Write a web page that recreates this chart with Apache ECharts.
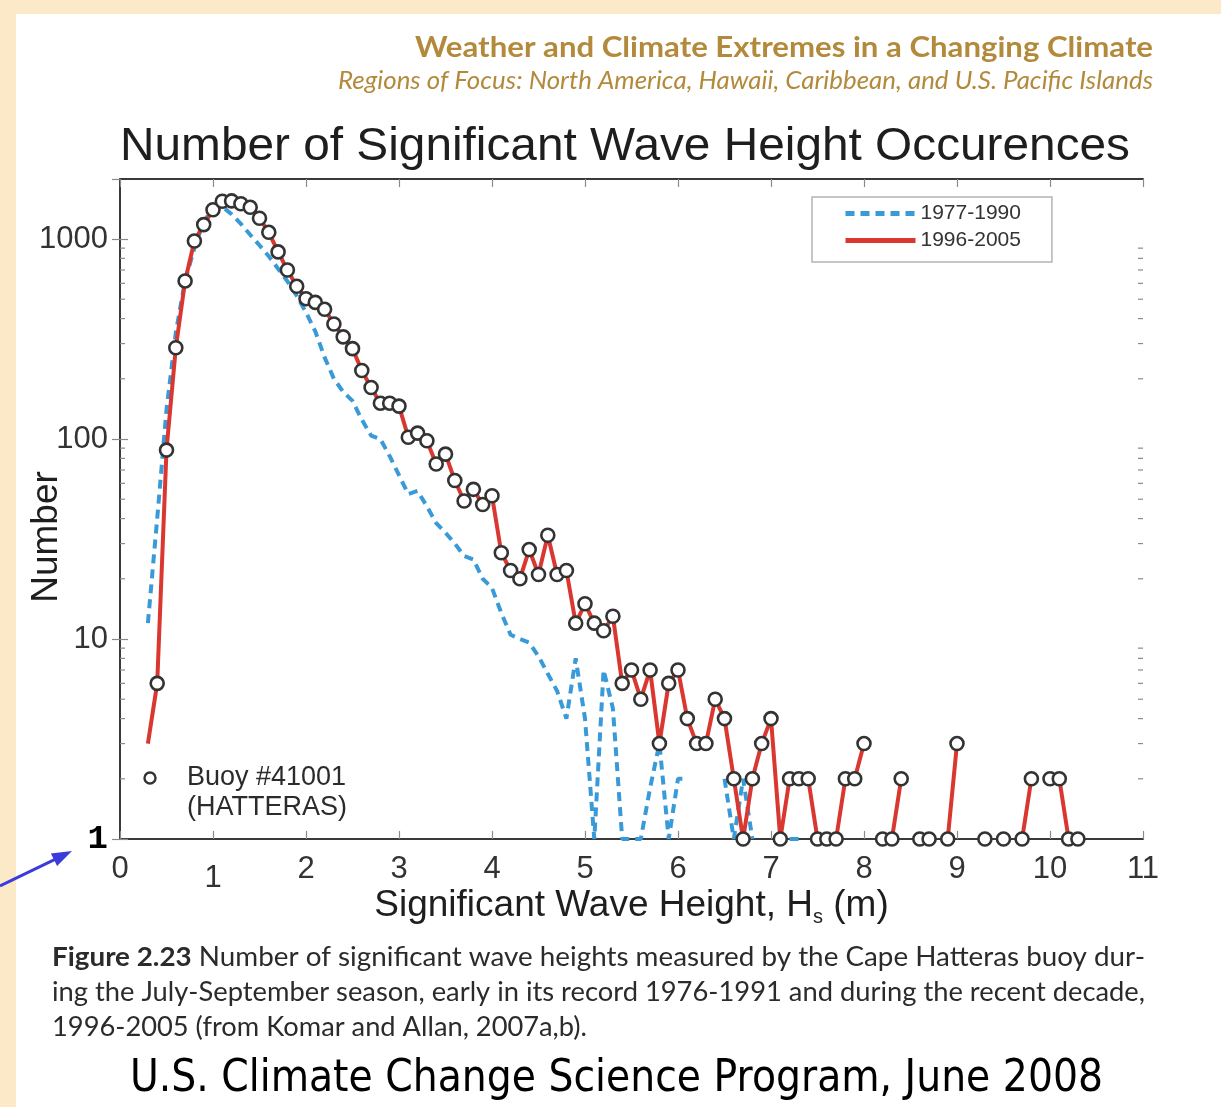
<!DOCTYPE html>
<html>
<head>
<meta charset="utf-8">
<title>Number of Significant Wave Height Occurences</title>
<script src="https://cdn.jsdelivr.net/npm/echarts@6/dist/echarts.min.js"></script>
<style>
  html, body { margin: 0; padding: 0; background: #fbe9c7; }
  #chart { width: 1221px; height: 1107px; }
</style>
</head>
<body>
<div id="chart"></div>
<script>
// Significant wave height bins (m)
const waveHeights = [
  0.3, 0.4, 0.5, 0.6, 0.7, 0.8, 0.9, 1.0, 1.1, 1.2,
  1.3, 1.4, 1.5, 1.6, 1.7, 1.8, 1.9, 2.0, 2.1, 2.2,
  2.3, 2.4, 2.5, 2.6, 2.7, 2.8, 2.9, 3.0, 3.1, 3.2,
  3.3, 3.4, 3.5, 3.6, 3.7, 3.8, 3.9, 4.0, 4.1, 4.2,
  4.3, 4.4, 4.5, 4.6, 4.7, 4.8, 4.9, 5.0, 5.1, 5.2,
  5.3, 5.4, 5.5, 5.6, 5.7, 5.8, 5.9, 6.0, 6.1, 6.2,
  6.3, 6.4, 6.5, 6.6, 6.7, 6.8, 6.9, 7.0, 7.1, 7.2,
  7.3, 7.4, 7.5, 7.6, 7.7, 7.8, 7.9, 8.0, 8.1, 8.2,
  8.3, 8.4, 8.5, 8.6, 8.7, 8.8, 8.9, 9.0, 9.1, 9.2,
  9.3, 9.4, 9.5, 9.6, 9.7, 9.8, 9.9, 10.0, 10.1, 10.2,
  10.3
];

// Occurrences, early record (null = no occurrence, not drawn on the log scale)
const counts1977to1990 = [
  12, 40, 140, 340, 620, 900, 1230, 1400, 1450, 1330,
  1190, 1050, 930, 820, 710, 615, 520, 430, 345, 256,
  200, 172, 155, 125, 104, 100, 82, 66, 53, 55,
  46, 38, 34, 30, 26, 25, 20, 18, 13.5, 10.5,
  10, 9.6, 8.2, 6.7, 5.5, 4, 8, 4, 1, 7,
  4.5, 1, 1, 1, 1.8, 3, 1, 2, 2, null,
  null, null, 2, 1, 2, 1, null, null, null, 1,
  1, null, null, null, null, null, null, null, null, null,
  null, null, null, null, null, null, null, null, null, null,
  null, null, null, null, null, null, null, null, null, null,
  null
];

// Occurrences, recent decade
const counts1996to2005 = [
  3, 6, 88, 286, 617, 977, 1180, 1400, 1545, 1550,
  1500, 1440, 1270, 1080, 862, 700, 580, 503, 482, 445,
  376, 324, 283, 220, 181, 151, 151, 146, 102, 107,
  98, 75, 84, 62, 49, 56, 47, 52, 27, 22,
  20, 28, 21, 33, 21, 22, 12, 15, 12, 11,
  13, 6, 7, 5, 7, 3, 6, 7, 4, 3,
  3, 5, 4, 2, 1, 2, 3, 4, 1, 2,
  2, 2, 1, 1, 1, 2, 2, 3, null, 1,
  1, 2, null, 1, 1, null, 1, 3, null, null,
  1, null, 1, null, 1, 2, null, 2, 2, 1,
  1
];

// The buoy markers start at the 0.4 m bin; the 0.3 m bin only carries the line
const firstMarkedHeight = 0.4;

const seriesNames = ['1977-1990', '1996-2005'];
const buoyLines = ['Buoy #41001', '(HATTERAS)'];
const xTickLabels = ['0', '1', '2', '3', '4', '5', '6', '7', '8', '9', '10', '11'];
const yMinorTickValues = [2, 3, 4, 5, 6, 7, 8, 9, 20, 30, 40, 50, 60, 70, 80, 90,
  200, 300, 400, 500, 600, 700, 800, 900];

const headerLines = [
  'Weather and Climate Extremes in a Changing Climate',
  'Regions of Focus: North America, Hawaii, Caribbean, and U.S. Pacific Islands'
];
const chartTitle = 'Number of Significant Wave Height Occurences';
const captionLead = 'Figure 2.23';
const captionLines = [
  ' Number of significant wave heights measured by the Cape Hatteras buoy dur-',
  'ing the July-September season, early in its record 1976-1991 and during the recent decade,',
  '1996-2005 (from Komar and Allan, 2007a,b).'
];
const footerText = 'U.S. Climate Change Science Program, June 2008';

// ---- helpers -------------------------------------------------------------
const measureCtx = document.createElement('canvas').getContext('2d');
function textWidth(str, font) {
  measureCtx.font = font;
  return measureCtx.measureText(str).width;
}

const AXIS_FONT = '"Liberation Sans", Arial, sans-serif';
const CAPTION_FONT = 'Lato, "Open Sans", sans-serif';
const GOLD = '#b38a3c';
const MARKER_STYLE = { fill: '#ffffff', stroke: '#333333', lineWidth: 2.4 };

const earlyData = waveHeights.map((h, i) => [h, counts1977to1990[i]]);
const recentData = waveHeights.map((h, i) => [h, counts1996to2005[i]]);
const markerData = recentData.filter(d => d[1] != null && d[0] >= firstMarkedHeight - 1e-9);

// ---- text fitted to its column widths ------------------------------------
const header1Font = `bold 28px ${CAPTION_FONT}`;
const header2Font = `italic 25px ${CAPTION_FONT}`;
const titleFont = `47px ${AXIS_FONT}`;
const captionFontReg = `26px ${CAPTION_FONT}`;
const captionFontBold = `bold 26px ${CAPTION_FONT}`;
const footerFont = `44px "DejaVu Sans", sans-serif`;

const h1Scale = 738 / textWidth(headerLines[0], header1Font);
const h2Scale = 815 / textWidth(headerLines[1], header2Font);
const titleScale = 1010 / textWidth(chartTitle, titleFont);
const cap1Width = textWidth(captionLead, captionFontBold) + textWidth(captionLines[0], captionFontReg);
const capScale = [
  1093 / cap1Width,
  1093 / textWidth(captionLines[1], captionFontReg),
  535 / textWidth(captionLines[2], captionFontReg)
];
const footerScale = 973 / textWidth(footerText, footerFont);

function fittedText(x, y, text, scale, style) {
  return {
    type: 'text', x: x, y: y, scaleX: scale, z: 50,
    style: Object.assign({ text: text, x: 0, y: 0, verticalAlign: 'middle' }, style)
  };
}

const graphics = [
  // white page panel
  { type: 'rect', z: -100, shape: { x: 16, y: 14, width: 1205, height: 1093 }, style: { fill: '#ffffff' } },
  fittedText(1153, 48, headerLines[0], h1Scale, {
    align: 'right', fill: GOLD, fontFamily: CAPTION_FONT, fontWeight: 'bold', fontSize: 28
  }),
  fittedText(1153, 81, headerLines[1], h2Scale, {
    align: 'right', fill: GOLD, fontFamily: CAPTION_FONT, fontStyle: 'italic', fontSize: 25
  }),
  fittedText(120, 147, chartTitle, titleScale, {
    align: 'left', fill: '#1e1e1e', fontFamily: AXIS_FONT, fontSize: 47
  }),
  fittedText(52, 958, `{b|${captionLead}}${captionLines[0]}`, capScale[0], {
    align: 'left', fill: '#2b2b2b', fontFamily: CAPTION_FONT, fontSize: 26,
    rich: { b: { fontWeight: 'bold', fontFamily: CAPTION_FONT, fontSize: 26, fill: '#2b2b2b' } }
  }),
  fittedText(52, 993, captionLines[1], capScale[1], {
    align: 'left', fill: '#2b2b2b', fontFamily: CAPTION_FONT, fontSize: 26
  }),
  fittedText(52, 1028, captionLines[2], capScale[2], {
    align: 'left', fill: '#2b2b2b', fontFamily: CAPTION_FONT, fontSize: 26
  }),
  fittedText(130, 1080, footerText, footerScale, {
    align: 'left', fill: '#000000', fontFamily: '"DejaVu Sans", sans-serif', fontSize: 44
  }),
  // buoy key: marker symbol and station name
  { type: 'circle', z: 50, shape: { cx: 150, cy: 778, r: 5.5 }, style: MARKER_STYLE },
  { type: 'text', z: 50, x: 187, y: 778,
    style: { text: buoyLines[0], x: 0, y: 0, verticalAlign: 'middle', align: 'left',
      fill: '#2b2b2b', fontFamily: AXIS_FONT, fontSize: 27 } },
  { type: 'text', z: 50, x: 187, y: 808,
    style: { text: buoyLines[1], x: 0, y: 0, verticalAlign: 'middle', align: 'left',
      fill: '#2b2b2b', fontFamily: AXIS_FONT, fontSize: 27 } },
  // blue pointer towards the axis base value
  { type: 'line', z: 60, shape: { x1: 0, y1: 886, x2: 55, y2: 859.3 },
    style: { stroke: '#3b3bdc', lineWidth: 3 } },
  { type: 'polygon', z: 60, shape: { points: [[72, 851], [57.1, 866], [50.9, 853.4]] },
    style: { fill: '#3b3bdc' } }
];

// ---- chart -----------------------------------------------------------------
const chart = echarts.init(document.getElementById('chart'), null, { renderer: 'canvas' });

const frameLine = { show: true, lineStyle: { color: '#3a3a3a', width: 2 } };
const innerTick = { show: true, inside: true, length: 8, lineStyle: { color: '#8a8a8a', width: 1.2 } };

const yLog = {
  type: 'log', logBase: 10, min: 1, max: 1995,
  axisLine: frameLine, axisTick: innerTick, splitLine: { show: false }
};

chart.setOption({
  backgroundColor: 'transparent',
  animation: false,
  grid: { left: 120, right: 78, top: 179, bottom: 268, containLabel: false, outerBoundsMode: 'none' },
  legend: {
    data: seriesNames,
    orient: 'vertical',
    left: 812, top: 197,
    padding: [6, 31, 11, 31],
    itemWidth: 70, itemHeight: 14, itemGap: 6,
    backgroundColor: '#ffffff',
    borderColor: '#b4b4b4', borderWidth: 1.5, borderRadius: 0,
    itemStyle: { opacity: 0 },
    lineStyle: { width: 5 },
    textStyle: { fontFamily: AXIS_FONT, fontSize: 21, color: '#333333' },
    selectedMode: false
  },
  xAxis: [
    {
      type: 'value', min: 0, max: 11, interval: 1, position: 'bottom',
      axisLine: frameLine, axisTick: innerTick, splitLine: { show: false },
      axisLabel: {
        fontFamily: AXIS_FONT, fontSize: 31, color: '#333333', margin: 15,
        formatter: v => {
          const label = xTickLabels[Math.round(v)];
          return v === 1 ? `{low|${label}}` : label;
        },
        rich: { low: { padding: [9, 0, 0, 0], fontSize: 31, fontFamily: AXIS_FONT, color: '#333333' } }
      },
      name: 'Significant Wave Height, H{sub|s} (m)',
      nameLocation: 'middle', nameGap: 46, nameMoveOverlap: false,
      nameTextStyle: {
        fontFamily: AXIS_FONT, fontSize: 37, color: '#1e1e1e',
        rich: { sub: { fontSize: 20, verticalAlign: 'bottom', padding: [22, 0, 0, 0], fontFamily: AXIS_FONT, color: '#1e1e1e' } }
      }
    },
    {
      type: 'value', min: 0, max: 11, interval: 1, position: 'top',
      axisLine: frameLine, axisTick: innerTick, axisLabel: { show: false }, splitLine: { show: false }
    }
  ],
  yAxis: [
    Object.assign({}, yLog, {
      position: 'left',
      axisLabel: {
        fontFamily: AXIS_FONT, fontSize: 31, color: '#333333', margin: 12,
        showMaxLabel: false,
        formatter: v => {
          const p = Math.log10(v);
          if (Math.abs(p - Math.round(p)) > 1e-6) return '';
          return v === 1 ? '{base|1}' : String(Math.round(v));
        },
        rich: { base: { fontFamily: '"Liberation Mono", "DejaVu Sans Mono", monospace', fontWeight: 'bold', fontSize: 34, color: '#000000' } }
      },
      name: 'Number', nameLocation: 'middle', nameGap: 55, nameRotate: 90, nameMoveOverlap: false,
      nameTextStyle: { fontFamily: AXIS_FONT, fontSize: 37, color: '#1e1e1e', padding: [0, 56, 0, 0] }
    }),
    Object.assign({}, yLog, { position: 'right', axisLabel: { show: false } })
  ],
  series: [
    {
      name: seriesNames[0], type: 'line', data: earlyData,
      xAxisIndex: 0, yAxisIndex: 0,
      symbol: 'none', connectNulls: false, z: 2,
      lineStyle: { color: '#3a9ad8', width: 4, type: [9, 6] },
      itemStyle: { color: '#3a9ad8' }
    },
    {
      name: seriesNames[1], type: 'line', data: recentData,
      xAxisIndex: 0, yAxisIndex: 0,
      symbol: 'none', connectNulls: false, z: 3,
      lineStyle: { color: '#d9372f', width: 4 },
      itemStyle: { color: '#d9372f' }
    },
    {
      name: 'Buoy #41001', type: 'scatter', data: markerData,
      xAxisIndex: 0, yAxisIndex: 0,
      symbol: 'circle', symbolSize: 13, clip: false, z: 4,
      itemStyle: { color: '#ffffff', borderColor: '#333333', borderWidth: 2.6, opacity: 1 }
    },
    {
      // minor log ticks on both vertical frame sides
      type: 'custom', silent: true, clip: false, z: 6,
      xAxisIndex: 0, yAxisIndex: 0,
      data: yMinorTickValues.map(v => [0, v]),
      renderItem: (params, api) => {
        const y = api.coord([0, api.value(1)])[1];
        const cs = params.coordSys;
        const st = { stroke: '#8a8a8a', lineWidth: 1.2 };
        return {
          type: 'group',
          children: [
            { type: 'line', shape: { x1: cs.x, y1: y, x2: cs.x + 5, y2: y }, style: st },
            { type: 'line', shape: { x1: cs.x + cs.width - 5, y1: y, x2: cs.x + cs.width, y2: y }, style: st }
          ]
        };
      }
    }
  ],
  graphic: graphics
});
</script>
</body>
</html>
